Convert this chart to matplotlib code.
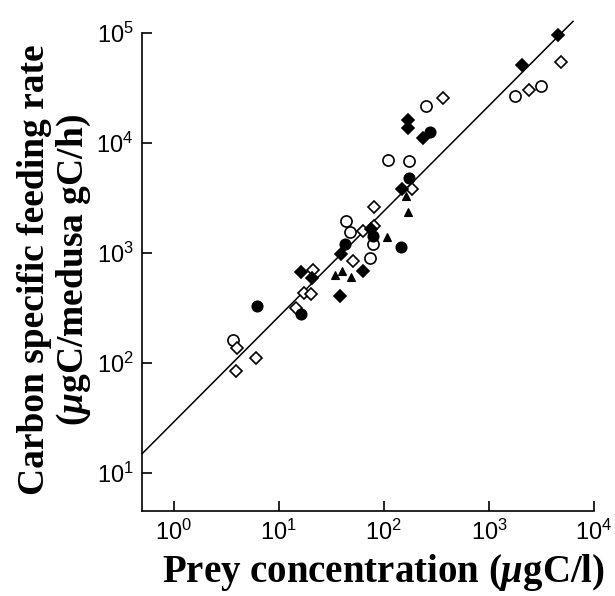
import numpy as np
import matplotlib
matplotlib.use("Agg")
import matplotlib.pyplot as plt

# ----------------------------
# DATA
# ----------------------------
# open circles
oc_x = [3.67, 43.5, 47.8, 78.0, 74.1, 110, 175, 251, 1770, 3126]
oc_y = [163, 1967, 1542, 1208, 895, 6930, 6900, 21600, 26600, 33200]

# open diamonds
od_x = [4.04, 3.89, 6.04, 14.5, 17.4, 20.4, 21.2, 51.2, 62.7, 81.2, 80.9, 185, 362, 2420, 4850]
od_y = [136, 84, 110, 313, 428, 421, 698, 837, 1596, 1758, 2600, 3846, 25900, 30300, 54200]

# filled circles
fc_x = [6.27, 16.2, 42.5, 78, 145, 174, 276]
fc_y = [330, 279, 1202, 1429, 1135, 4773, 12700]

# filled diamonds
fd_x = [16.2, 20.9, 38.5, 38.9, 63.1, 75.7, 150, 168, 168, 233, 2048, 4570]
fd_y = [671, 589, 409, 973, 685, 1641, 3776, 16300, 13800, 11070, 51500, 95900]

# filled triangles
ft_x = [34.5, 39.8, 48.2, 108, 163, 171]
ft_y = [627, 682, 609, 1397, 3320, 2373]

# regression line y = a * x^b
fit_a = 29.0
fit_b = 0.959
fit_x = [0.5, 6300]

# ----------------------------
# STYLE
# ----------------------------
plt.rcParams['font.family'] = ['Liberation Sans', 'DejaVu Sans']
plt.rcParams['mathtext.fontset'] = 'custom'
plt.rcParams['mathtext.rm'] = 'Liberation Serif:bold'
plt.rcParams['mathtext.bf'] = 'Liberation Serif:bold'
plt.rcParams['mathtext.it'] = 'Liberation Serif:italic:bold'

fig = plt.figure(figsize=(6.15, 5.96), dpi=100)
ax = fig.add_axes([0.231, 0.1426, 0.735, 0.802])

ax.set_xscale('log')
ax.set_yscale('log')

fx = np.array(fit_x)
ax.plot(fx, fit_a * fx ** fit_b, color='black', lw=1.1, clip_on=False, zorder=1)

mew = 1.2
ax.plot(oc_x, oc_y, 'o', ms=8, mfc='white', mec='black', mew=mew, ls='none', zorder=3, clip_on=False)
ax.plot(od_x, od_y, 'D', ms=6.5, mfc='white', mec='black', mew=mew, ls='none', zorder=3, clip_on=False)
ax.plot(fc_x, fc_y, 'o', ms=7.5, mfc='black', mec='black', mew=mew, ls='none', zorder=4, clip_on=False)
ax.plot(fd_x, fd_y, 'D', ms=6.5, mfc='black', mec='black', mew=mew, ls='none', zorder=4, clip_on=False)
ax.plot(ft_x, ft_y, '^', ms=6, mfc='black', mec='black', mew=0.8, ls='none', zorder=4, clip_on=False)

ax.set_xlim(0.5, 1e4)
ax.set_ylim(4.5, 1e5)
ax.set_xticks([1, 10, 100, 1000, 10000])
ax.set_yticks([10, 100, 1000, 10000, 100000])
ax.minorticks_off()

ax.spines['top'].set_visible(False)
ax.spines['right'].set_visible(False)
for s in ['left', 'bottom']:
    ax.spines[s].set_linewidth(1.2)
ax.tick_params(direction='in', length=7, width=1.2, labelsize=17, pad=6)

ax.set_xlabel(r'Prey concentration ($\mu$gC/l)', fontsize=28,
              fontfamily='Liberation Serif', fontweight='bold')
ax.xaxis.set_label_coords(0.535, -0.085, transform=ax.transAxes)
ax.set_ylabel('Carbon specific feeding rate\n' + r'($\mu$gC/medusa gC/h)', fontsize=27,
              fontfamily='Liberation Serif', fontweight='bold', linespacing=1.1)
ax.yaxis.set_label_coords(-0.108, 0.505, transform=ax.transAxes)

fig.savefig('out.png', dpi=100)
